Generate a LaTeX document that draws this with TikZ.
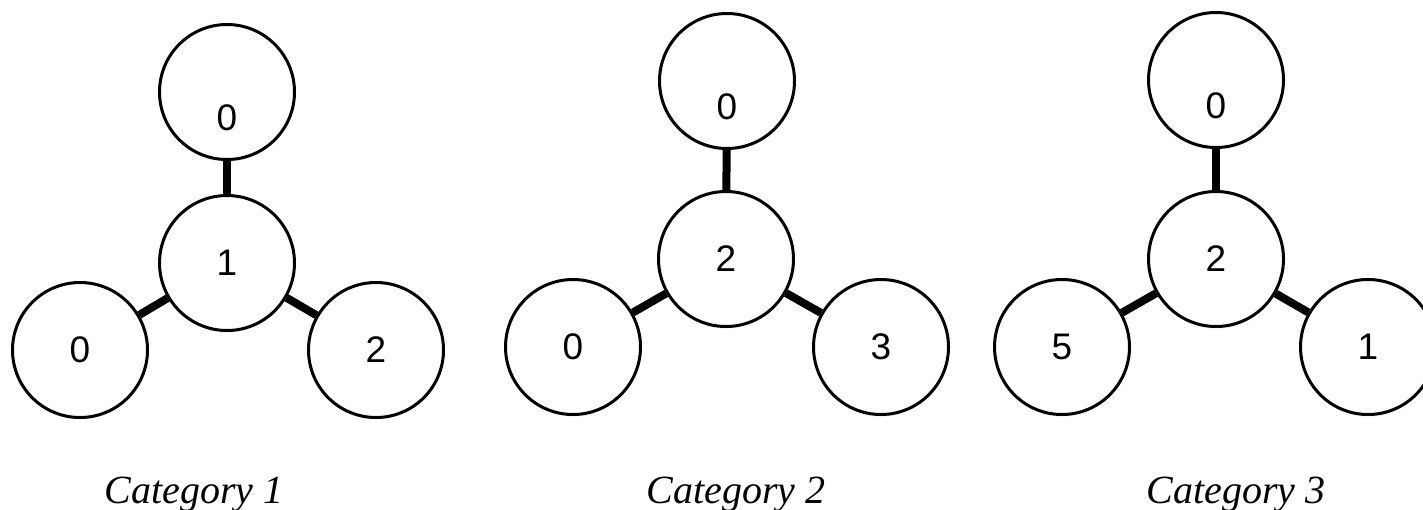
\documentclass[tikz,border=0pt]{standalone}
\usepackage{fontspec}
\setmainfont{Liberation Serif}
\newfontfamily\numfont{Liberation Sans}
\usetikzlibrary{shadows}
\begin{document}
\begin{tikzpicture}[x=1pt,y=-1pt,
  numtext/.style={font=\numfont\fontsize{37}{44}\selectfont},
  ball/.style={circle, draw=black, fill=white, line width=3pt,
    minimum size=135pt, inner sep=0pt, numtext,
    drop shadow={opacity=0.18, shadow xshift=0pt, shadow yshift=-2pt}},
  toplabel/.style={label={[yshift=-26pt,numtext]center:#1}},
  bond/.style={line width=8pt},
  caption/.style={anchor=base, font=\itshape\fontsize{40}{48}\selectfont}]
\useasboundingbox (0,0) rectangle (1423,509);

% Category 1
\node[ball, toplabel=0] (t1) at (227,92) {};
\node[ball] (c1) at (227,263) {1};
\node[ball] (l1) at (80,350) {0};
\node[ball] (r1) at (376,350) {2};
\draw[bond] (t1) -- (c1);
\draw[bond] (c1) -- (l1);
\draw[bond] (c1) -- (r1);
\node[caption] (cap1) at (194,503) {Category 1};

% Category 2
\node[ball, toplabel=0] (t2) at (727,81) {};
\node[ball] (c2) at (726,259) {2};
\node[ball] (l2) at (573,347) {0};
\node[ball] (r2) at (881,347) {3};
\draw[bond] (t2) -- (c2);
\draw[bond] (c2) -- (l2);
\draw[bond] (c2) -- (r2);
\node[caption] (cap2) at (736,503) {Category 2};

% Category 3
\node[ball, toplabel=0] (t3) at (1216,80) {};
\node[ball] (c3) at (1216,259) {2};
\node[ball] (l3) at (1062,347) {5};
\node[ball] (r3) at (1368,347) {1};
\draw[bond] (t3) -- (c3);
\draw[bond] (c3) -- (l3);
\draw[bond] (c3) -- (r3);
\node[caption] (cap3) at (1236,503) {Category 3};
\end{tikzpicture}
\end{document}
